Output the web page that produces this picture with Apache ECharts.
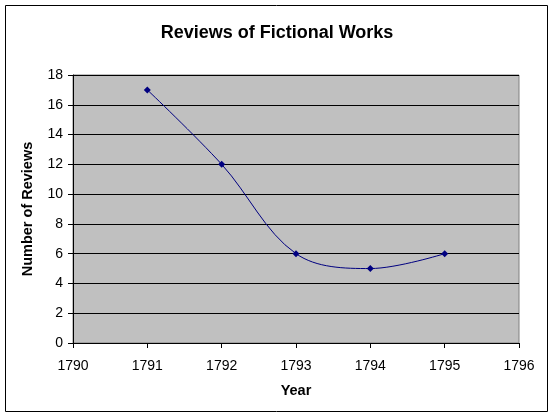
<!DOCTYPE html>
<html><head><meta charset="utf-8">
<script src="https://cdn.jsdelivr.net/npm/echarts@6/dist/echarts.min.js"></script>
<style>html,body{margin:0;padding:0;background:#fff}#c{width:554px;height:419px}</style>
</head><body><div id="c"></div>
<script>
const years = [1791, 1792, 1793, 1794, 1795];
const reviews = [17, 12, 6, 5, 6];
const xMin = 1790, xMax = 1796;
const yMin = 0, yMax = 18, yStep = 2;

const chart = echarts.init(document.getElementById('c'));
const font = 'Arial, "Liberation Sans", sans-serif';
chart.setOption({
  animation: false,
  backgroundColor: '#fff',
  graphic: [{
    type: 'rect', shape: {x: 5.5, y: 5.5, width: 542, height: 406},
    style: {fill: null, stroke: '#000', lineWidth: 1}, z: 0
  }],
  title: {
    text: 'Reviews of Fictional Works', left: 'center', top: 19,
    textStyle: {fontFamily: font, fontSize: 18, fontWeight: 'bold', color: '#000'}
  },
  grid: {left: 73, right: 35, top: 75, bottom: 76, show: true, backgroundColor: '#c0c0c0', borderColor: '#808080', borderWidth: 1},
  xAxis: {
    type: 'value', min: xMin, max: xMax, interval: 1,
    name: 'Year', nameLocation: 'middle', nameGap: 40,
    nameTextStyle: {fontFamily: font, fontSize: 14.5, fontWeight: 'bold', color: '#000'},
    axisLine: {lineStyle: {color: '#000', width: 1}},
    axisTick: {show: true, length: 5, lineStyle: {color: '#000'}},
    axisLabel: {fontFamily: font, fontSize: 14, color: '#000', margin: 16, formatter: v => String(v)},
    splitLine: {show: false}
  },
  yAxis: {
    type: 'value', min: yMin, max: yMax, interval: yStep,
    name: 'Number of Reviews', nameLocation: 'middle', nameGap: 38,
    nameTextStyle: {fontFamily: font, fontSize: 14.5, fontWeight: 'bold', color: '#000'},
    axisLine: {show: true, lineStyle: {color: '#000', width: 1}},
    axisTick: {show: true, length: 5, lineStyle: {color: '#000'}},
    axisLabel: {fontFamily: font, fontSize: 14, color: '#000', margin: 10},
    splitLine: {show: true, lineStyle: {color: '#000', width: 1}}
  },
  series: [{
    type: 'line', data: years.map((y, i) => [y, reviews[i]]),
    smooth: 0.35, symbol: 'diamond', symbolSize: 7,
    lineStyle: {color: '#000080', width: 1},
    itemStyle: {color: '#000080'}
  }]
});
</script></body></html>
